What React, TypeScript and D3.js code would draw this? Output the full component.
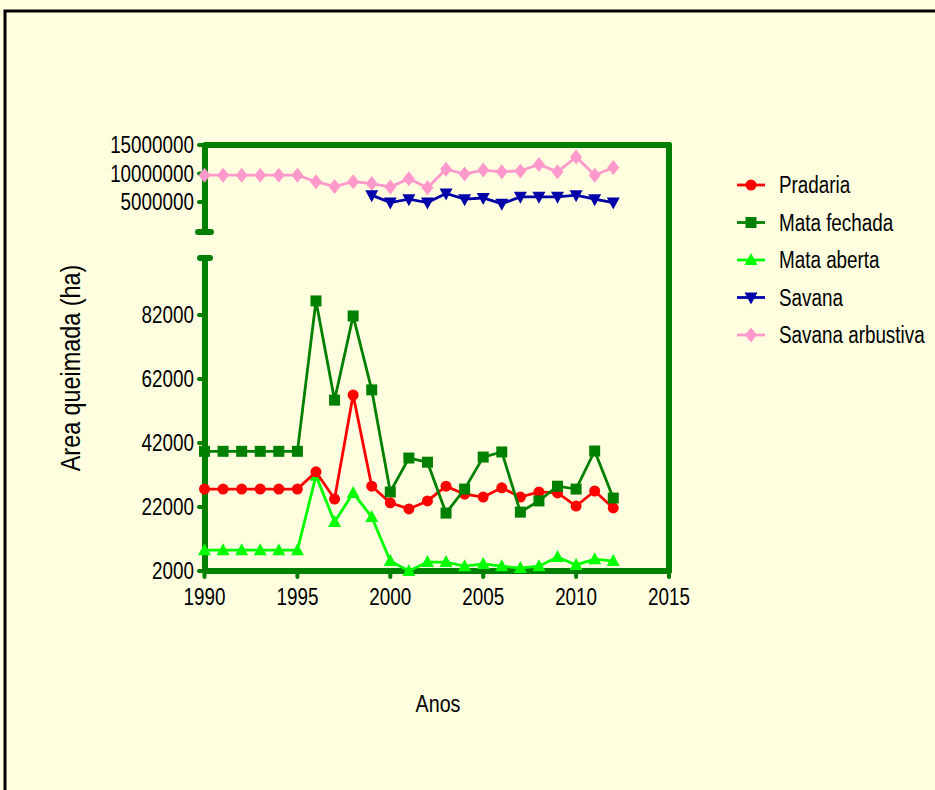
import React from "react";
import * as d3 from "d3";

const years = d3.range(1990, 2013);
const yearsSavana = d3.range(1999, 2013);

const pradaria = [27600, 27600, 27600, 27600, 27600, 27600, 33000, 24500, 57000, 28500, 23300, 21400, 23900, 28500, 26000, 25100, 28000, 25100, 26700, 26400, 22300, 27000, 21700];
const mataFechada = [39400, 39400, 39400, 39400, 39400, 39400, 86400, 55400, 81700, 58600, 26700, 37300, 36000, 20100, 27600, 37600, 39200, 20400, 23900, 28500, 27600, 39500, 24800];
const mataAberta = [8500, 8500, 8500, 8500, 8500, 8500, 31800, 17300, 26400, 18900, 5100, 2000, 4800, 4800, 3500, 4200, 3500, 2900, 3500, 6400, 3900, 5700, 5100];
const savana = [6200000, 4900000, 5500000, 4900000, 6500000, 5500000, 5700000, 4700000, 5900000, 5900000, 5900000, 6200000, 5500000, 4900000];
const savanaArbustiva = [9700000, 9700000, 9700000, 9700000, 9700000, 9700000, 8560000, 7700000, 8560000, 8240000, 7640000, 9100000, 7500000, 10760000, 9900000, 10600000, 10300000, 10460000, 11600000, 10300000, 12900000, 9700000, 11050000];

const xTicks = [1990, 1995, 2000, 2005, 2010, 2015];
const lowerTicks = [2000, 22000, 42000, 62000, 82000];
const upperTicks = [5000000, 10000000, 15000000];
const legendLabels = ["Pradaria", "Mata fechada", "Mata aberta", "Savana", "Savana arbustiva"];

const BG = "#FFFFE0";
const AXIS = "#007F00";

type Shape = "circle" | "square" | "triangle" | "triangleDown" | "diamond";

function Marker({ x, y, shape, color }: { x: number; y: number; shape: Shape; color: string }) {
  if (shape === "circle") return <circle cx={x} cy={y} r={5.5} fill={color} />;
  if (shape === "square") return <rect x={x - 5.5} y={y - 5.5} width={11} height={11} fill={color} />;
  if (shape === "triangle")
    return <path d={`M${x},${y - 7}L${x + 6.5},${y + 5}L${x - 6.5},${y + 5}Z`} fill={color} />;
  if (shape === "triangleDown")
    return <path d={`M${x},${y + 7}L${x + 6.5},${y - 5}L${x - 6.5},${y - 5}Z`} fill={color} />;
  return <path d={`M${x},${y - 7.5}L${x + 6},${y}L${x},${y + 7.5}L${x - 6},${y}Z`} fill={color} />;
}

function NText({ x, y, anchor = "start", size = 23, rotate = 0, children }: any) {
  return (
    <text
      transform={`translate(${x},${y}) rotate(${rotate}) scale(0.82,1)`}
      textAnchor={anchor}
      fontFamily="'Liberation Sans', Arial, sans-serif"
      fontSize={size}
      fill="#000"
    >
      {children}
    </text>
  );
}

export default function App() {
  const W = 935;
  const H = 790;
  const x = d3.scaleLinear().domain([1990, 2015]).range([204.5, 669]);
  const yLow = d3.scaleLinear().domain([2000, 100000]).range([571, 257.4]);
  const yUp = d3.scaleLinear().domain([0, 15000000]).range([230.5, 145]);

  const series = [
    { name: legendLabels[0], xs: years, vals: pradaria, y: yLow, color: "#FF0000", shape: "circle" as Shape },
    { name: legendLabels[1], xs: years, vals: mataFechada, y: yLow, color: "#008000", shape: "square" as Shape },
    { name: legendLabels[2], xs: years, vals: mataAberta, y: yLow, color: "#00FF00", shape: "triangle" as Shape },
    { name: legendLabels[3], xs: yearsSavana, vals: savana, y: yUp, color: "#0000A8", shape: "triangleDown" as Shape },
    { name: legendLabels[4], xs: years, vals: savanaArbustiva, y: yUp, color: "#FF99CC", shape: "diamond" as Shape },
  ];

  const axisX = 205;
  const drawOrder = [4, 3, 2, 0, 1];

  return (
    <div style={{ position: "absolute", left: 0, top: 0, width: W, height: H, background: BG }}>
      <svg width={W} height={H} style={{ display: "block" }}>
        <rect x={0} y={0} width={W} height={H} fill={BG} />
        <rect x={5} y={11} width={W + 20} height={H + 20} fill="none" stroke="#000" strokeWidth={3} />

        {/* frame top and right */}
        <line x1={axisX} y1={145} x2={669} y2={145} stroke={AXIS} strokeWidth={6} strokeLinecap="round" />
        <line x1={669} y1={145} x2={669} y2={571} stroke={AXIS} strokeWidth={6} strokeLinecap="round" />
        {/* bottom axis */}
        <line x1={axisX} y1={571} x2={669} y2={571} stroke={AXIS} strokeWidth={6} strokeLinecap="round" />
        {/* left axis: upper segment */}
        <line x1={axisX} y1={145} x2={axisX} y2={232} stroke={AXIS} strokeWidth={6} />
        <line x1={198} y1={232} x2={211} y2={232} stroke={AXIS} strokeWidth={6} strokeLinecap="round" />
        {/* left axis: lower segment */}
        <line x1={axisX} y1={258} x2={axisX} y2={571} stroke={AXIS} strokeWidth={6} />
        <line x1={200} y1={258} x2={210} y2={258} stroke={AXIS} strokeWidth={6} strokeLinecap="round" />

        {/* y ticks */}
        {upperTicks.map((t) => (
          <g key={"u" + t}>
            <line x1={199} x2={axisX} y1={yUp(t)} y2={yUp(t)} stroke={AXIS} strokeWidth={4} strokeLinecap="round" />
            <NText x={194} y={yUp(t) + 8} anchor="end">{t}</NText>
          </g>
        ))}
        {lowerTicks.map((t) => (
          <g key={"l" + t}>
            <line x1={199} x2={axisX} y1={yLow(t)} y2={yLow(t)} stroke={AXIS} strokeWidth={4} strokeLinecap="round" />
            <NText x={194} y={yLow(t) + 8} anchor="end">{t}</NText>
          </g>
        ))}
        {/* x ticks */}
        {xTicks.map((t) => (
          <g key={"x" + t}>
            <line x1={x(t)} x2={x(t)} y1={571} y2={577} stroke={AXIS} strokeWidth={4} strokeLinecap="round" />
            <NText x={x(t)} y={605} anchor="middle">{t}</NText>
          </g>
        ))}

        {/* series */}
        {drawOrder.map((i) => {
          const s = series[i];
          const line = d3
            .line<number>()
            .x((_, k) => x(s.xs[k]))
            .y((v) => s.y(v));
          return (
            <g key={s.name}>
              <path d={line(s.vals) || ""} fill="none" stroke={s.color} strokeWidth={2.8} />
              {s.vals.map((v, k) => (
                <Marker key={k} x={x(s.xs[k])} y={s.y(v)} shape={s.shape} color={s.color} />
              ))}
            </g>
          );
        })}

        {/* legend */}
        {series.map((s, i) => {
          const ly = 185 + i * 37.5;
          return (
            <g key={"leg" + i}>
              <line x1={737} x2={765} y1={ly} y2={ly} stroke={s.color} strokeWidth={2.8} />
              <Marker x={751} y={ly} shape={s.shape} color={s.color} />
              <NText x={779} y={ly + 8}>{s.name}</NText>
            </g>
          );
        })}

        {/* axis titles */}
        <NText x={438} y={712} anchor="middle" size={24}>Anos</NText>
        <NText x={80} y={368} anchor="middle" size={28.5} rotate={-90}>Area queimada (ha)</NText>
      </svg>
    </div>
  );
}
